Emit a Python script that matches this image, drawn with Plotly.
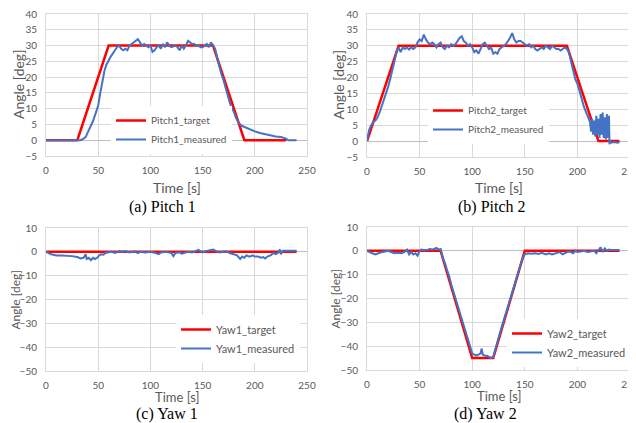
import plotly.graph_objects as go

# ---------------- data ----------------
pitch1_target_t = [0, 30, 60, 160, 190, 230]
pitch1_target_v = [0, 0, 30, 30, 0, 0]
pitch1_meas_t = [0, 10, 20, 30, 33, 35, 38, 40, 42, 45, 48, 50, 52, 54, 56, 58, 60, 62, 64, 66, 68, 70,
                 72, 74, 76, 78, 80, 82, 84, 86, 88, 90, 92, 94, 96, 98, 100, 102, 104, 106, 108, 110,
                 112, 114, 116, 118, 120, 122, 124, 126, 128, 130, 132, 134, 136, 138, 140, 142, 144,
                 146, 148, 150, 152, 154, 156, 158, 160, 162, 164, 166, 168, 170, 172, 174, 176, 178,
                 180, 182, 184, 186, 188, 190, 192, 194, 196, 198, 200, 205, 210, 215, 220, 225, 228,
                 230, 232, 240]
pitch1_meas_v = [0, 0, 0, 0, 0, 0.3, 1, 2.5, 4, 6, 9, 11, 15, 19, 22, 24, 25.5, 26.5, 27.5, 28.5, 29.5, 30,
                 29, 28.5, 29, 28.5, 30, 30.5, 31, 31.5, 32, 31, 30, 30.5, 30, 29.5, 30, 28, 28.5, 29.5, 30, 29,
                 30.5, 29.5, 31, 30, 29.5, 29.8, 30, 29.5, 28.5, 30, 29, 30, 31.5, 31, 30.5, 30.5, 30,
                 30, 29.5, 29.5, 30, 30.5, 29.5, 31, 30, 29, 26, 23, 21, 19, 16.5, 14, 12, 10,
                 9, 7, 6, 5, 4.5, 4.2, 4, 3.5, 3.2, 3, 2.8, 2.3, 1.9, 1.5, 1.2, 1, 0.8,
                 0.5, 0, 0]

pitch2_target_t = [0, 30, 190, 220, 240]
pitch2_target_v = [0, 30, 30, 0, 0]
pitch2_meas_t = [0, 1, 2, 4, 6, 8, 10, 12, 14, 16, 18, 20, 22, 24, 26, 28, 30, 32, 34, 36, 38, 40, 42, 44,
                 46, 48, 50, 52, 54, 56, 58, 60, 62, 64, 66, 68, 70, 72, 74, 76, 78, 80, 82, 84, 86, 88,
                 90, 92, 94, 96, 98, 100, 102, 104, 106, 108, 110, 112, 114, 116, 118, 120, 122, 124,
                 126, 128, 130, 132, 134, 136, 138, 140, 142, 144, 146, 148, 150, 152, 154, 156, 158,
                 160, 162, 164, 166, 168, 170, 172, 174, 176, 178, 180, 182, 184, 186, 188, 190, 192,
                 194, 196, 198, 200, 202, 204, 206, 208, 210, 212, 213, 214, 215, 216, 217, 218, 219,
                 220, 221, 222, 223, 224, 225, 226, 227, 228, 229, 230, 230.5, 231, 232, 235, 238, 240]
pitch2_meas_v = [0, 2, 3.5, 5, 6, 6.5, 7.5, 9, 11, 12.5, 14.5, 17, 19.5, 22, 25, 28, 29.5, 28, 29.5, 29,
                 29.5, 28.8, 29.5, 29, 29.5, 31, 32, 31.5, 33.5, 32, 31, 30.5, 31, 30.5, 29.5, 30.5, 31,
                 29.5, 29, 30, 29.5, 30.5, 30, 30.5, 31.5, 32.5, 33, 31.5, 31, 30, 30.5, 29.5, 28, 28.5,
                 27.5, 29, 30.5, 31, 30, 29, 29.5, 27.5, 28, 27.5, 29, 29.5, 30, 30.5, 31.5, 32.5, 34,
                 32, 31, 31.5, 31.5, 31, 30.5, 30, 30.5, 29.5, 30, 29, 28.5, 29, 29.5, 29, 30, 29.5, 29,
                 30, 29.5, 29, 29, 28.5, 29, 29.5, 29, 28, 25, 22, 19.5, 18, 16, 13.5, 11, 9.5, 8, 6,
                 3, 7, 2, 6.5, 1.5, 8, 2, 7, 1, 8.5, 2, 9, 1, 7.5, 0.5, 8.5, 1, 8, -1, 0, -0.5, -0.3,
                 -0.5, -0.3]

yaw1_target_t = [0, 240]
yaw1_target_v = [0, 0]
yaw1_meas_t = [0, 2, 5, 8, 10, 15, 20, 25, 30, 33, 36, 38, 39, 41, 43, 45, 47, 49, 51, 53, 55, 57, 60,
               63, 66, 70, 73, 76, 80, 85, 88, 90, 95, 100, 105, 108, 110, 115, 120, 122, 124, 128, 130,
               133, 136, 140, 143, 146, 148, 150, 153, 156, 160, 163, 166, 170, 173, 176, 180, 183, 186,
               188, 190, 192, 195, 198, 200, 203, 206, 208, 210, 212, 215, 218, 220, 222, 224, 225, 227,
               230, 235, 240]
yaw1_meas_v = [0, -0.5, -1, -1.3, -1.5, -1.5, -1.6, -1.8, -2.2, -2.8, -2.5, -1, -3, -2.5, -3.5, -2.5,
               -3, -2.5, -1.5, -1, -1.2, -0.5, -0.2, 0, -0.5, 0.2, 0, 0.3, -0.3, 0.2, -0.5, 0, -0.3, 0,
               -0.5, -1, -0.3, 0, -0.5, -1.8, -0.5, -0.2, -0.8, -0.3, 0, -0.3, 0.2, 0.8, 0.2, -0.2, 0.3,
               0.5, 1, 0.3, -0.3, 0, 0.2, -0.5, -1, -1.5, -3, -2, -2.5, -1.5, -2, -1.5, -2, -2, -2.5,
               -2.2, -2.8, -2, -1.5, -0.5, -1, -0.5, 1, -1, 0.5, 0.5, 0.5, 0.5]

yaw2_target_t = [0, 70, 100, 120, 150, 240]
yaw2_target_v = [0, 0, -45, -45, 0, 0]
yaw2_meas_t = [0, 2, 5, 8, 10, 12, 15, 18, 20, 23, 26, 30, 33, 36, 38, 40, 42, 44, 46, 48, 50, 52, 55, 58,
               60, 62, 64, 66, 68, 70, 72, 74, 76, 78, 80, 82, 84, 86, 88, 90, 92, 94, 96, 98, 100, 102,
               104, 106, 108, 109, 110, 112, 114, 116, 118, 120, 122, 124, 126, 128, 130, 132, 134, 136,
               138, 140, 142, 144, 146, 148, 150, 153, 156, 160, 163, 166, 170, 173, 176, 180, 183, 186,
               190, 193, 196, 198, 200, 203, 206, 210, 213, 216, 218, 220, 222, 224, 226, 228, 230, 233,
               236, 240]
yaw2_meas_v = [0, -0.5, -1, -1.5, -1, -0.8, -0.5, -0.3, 0, -0.5, -1, -0.8, -1, -0.3, 0.5, -1.5, -0.5,
               -1.5, -1, -2, 0, 0.5, 0.3, 0.5, 0.8, 0.5, 1, 1.2, 0.5, 0.8, -3, -5, -8, -10.5, -14, -17,
               -20, -23, -26, -29, -32, -35, -38, -41, -43, -43.5, -44, -43.5, -43, -41, -43.5, -44, -44,
               -44.5, -45, -44.5, -41, -38, -35, -32, -29, -26.5, -23, -20.5, -18, -15, -12, -9, -5.5,
               -3, -1.5, -1, -1.2, -1, -1.3, -0.8, -1.5, -1, -1.5, -1, -0.5, -1.5, -0.5, -0.3, -1, 0,
               -0.5, -0.3, 0, -0.5, -0.2, 0, -1, 0.5, 1.5, -0.5, 1, 0, 0.5, 0.3, 0.2, 0.3]

panels = [
    ("Pitch1", pitch1_target_t, pitch1_target_v, pitch1_meas_t, pitch1_meas_v),
    ("Pitch2", pitch2_target_t, pitch2_target_v, pitch2_meas_t, pitch2_meas_v),
    ("Yaw1", yaw1_target_t, yaw1_target_v, yaw1_meas_t, yaw1_meas_v),
    ("Yaw2", yaw2_target_t, yaw2_target_v, yaw2_meas_t, yaw2_meas_v),
]
captions = ["(a) Pitch 1", "(b) Pitch 2", "(c) Yaw 1", "(d) Yaw 2"]

# ---------------- layout ----------------
OFF = 8                      # page body margin
W, H = 636 - OFF, 423 - OFF  # figure size so it fits the window
RED = "#ff0000"
BLUE = "#4472c4"
GRID = "#d9d9d9"
TXT = "#595959"
FONT = "Lato, 'Noto Sans', sans-serif"


def px(x):
    return (x - OFF) / W


def py(y):
    return 1 - (y - OFF) / H


# plot areas in page pixels: x0, x1, ytop, ybottom
boxes = [(46, 307, 14, 156), (367, 630, 14, 157), (46, 307, 228, 371), (367, 630, 227, 370)]
yranges = [[-5, 40], [-5, 40], [-50, 10], [-50, 10]]
ydticks = [5, 5, 10, 10]
legend_pos = [(111, 106), (428, 96), (176, 315), (507, 319)]
legend_font = [10, 10, 11, 11]
ytitle_x = [19, 338, 15, 335]
ytitle_size = [14, 14, 12, 12]
xtitle_y = [187, 187, 397, 396]
xtitle_size = [14, 14, 13, 13]
caption_pos = [(162, 207), (492, 207), (167, 414), (485, 414)]

fig = go.Figure()
for i, (name, tt, tv, mt, mv) in enumerate(panels):
    ax = "" if i == 0 else str(i + 1)
    leg = "legend" if i == 0 else f"legend{i + 1}"
    fig.add_trace(go.Scatter(x=tt, y=tv, mode="lines", name=f"{name}_target",
                             line=dict(color=RED, width=2.5), xaxis=f"x{ax}", yaxis=f"y{ax}",
                             legend=leg))
    fig.add_trace(go.Scatter(x=mt, y=mv, mode="lines", name=f"{name}_measured",
                             line=dict(color=BLUE, width=2), xaxis=f"x{ax}", yaxis=f"y{ax}",
                             legend=leg))

layout = dict(width=W, height=H, margin=dict(l=0, r=0, t=0, b=0), paper_bgcolor="white",
              plot_bgcolor="white", font=dict(family=FONT, color=TXT), showlegend=True)
annotations = []
for i, (x0, x1, yt, yb) in enumerate(boxes):
    ax = "" if i == 0 else str(i + 1)
    layout[f"xaxis{ax}"] = dict(domain=[px(x0), px(x1)], range=[0, 250], dtick=50, tick0=0,
                                showgrid=True, gridcolor=GRID, gridwidth=1, zeroline=False,
                                showline=True, mirror=True, linecolor=GRID, linewidth=1,
                                ticks="outside", ticklen=5, tickcolor="rgba(0,0,0,0)",
                                tickfont=dict(size=10, color=TXT, family=FONT),
                                ticklabeloverflow="allow",
                                anchor=f"y{ax}", automargin=False, fixedrange=True)
    layout[f"yaxis{ax}"] = dict(domain=[py(yb), py(yt)], range=yranges[i], dtick=ydticks[i],
                                showgrid=True, gridcolor=GRID, gridwidth=1, zeroline=True,
                                zerolinecolor="#bfbfbf", zerolinewidth=1,
                                showline=True, mirror=True, linecolor=GRID, linewidth=1,
                                ticks="outside", ticklen=6, tickcolor="rgba(0,0,0,0)",
                                tickfont=dict(size=10, color=TXT, family=FONT),
                                ticklabeloverflow="allow",
                                anchor=f"x{ax}", automargin=False, fixedrange=True)
    leg = "legend" if i == 0 else f"legend{i + 1}"
    lx, ly = legend_pos[i]
    layout[leg] = dict(x=px(lx), y=py(ly), xanchor="left", yanchor="top", xref="paper",
                       yref="paper", bgcolor="white", borderwidth=0, itemwidth=30,
                       font=dict(size=legend_font[i], color=TXT, family=FONT), tracegroupgap=0)
    annotations.append(dict(text="Angle [deg]", x=px(ytitle_x[i]), y=py((yt + yb) / 2),
                            xref="paper", yref="paper", showarrow=False, textangle=-90,
                            xanchor="center", yanchor="middle",
                            font=dict(size=ytitle_size[i], color=TXT, family=FONT)))
    annotations.append(dict(text="Time [s]", x=px((x0 + x1) / 2), y=py(xtitle_y[i]),
                            xref="paper", yref="paper", showarrow=False,
                            xanchor="center", yanchor="middle",
                            font=dict(size=xtitle_size[i], color=TXT, family=FONT)))
    cx, cy = caption_pos[i]
    annotations.append(dict(text=captions[i], x=px(cx), y=py(cy), xref="paper", yref="paper",
                            showarrow=False, xanchor="center", yanchor="middle",
                            font=dict(size=16, color="black", family="Liberation Serif, serif")))
layout["annotations"] = annotations
fig.update_layout(**layout)

fig.write_html("out.html")
